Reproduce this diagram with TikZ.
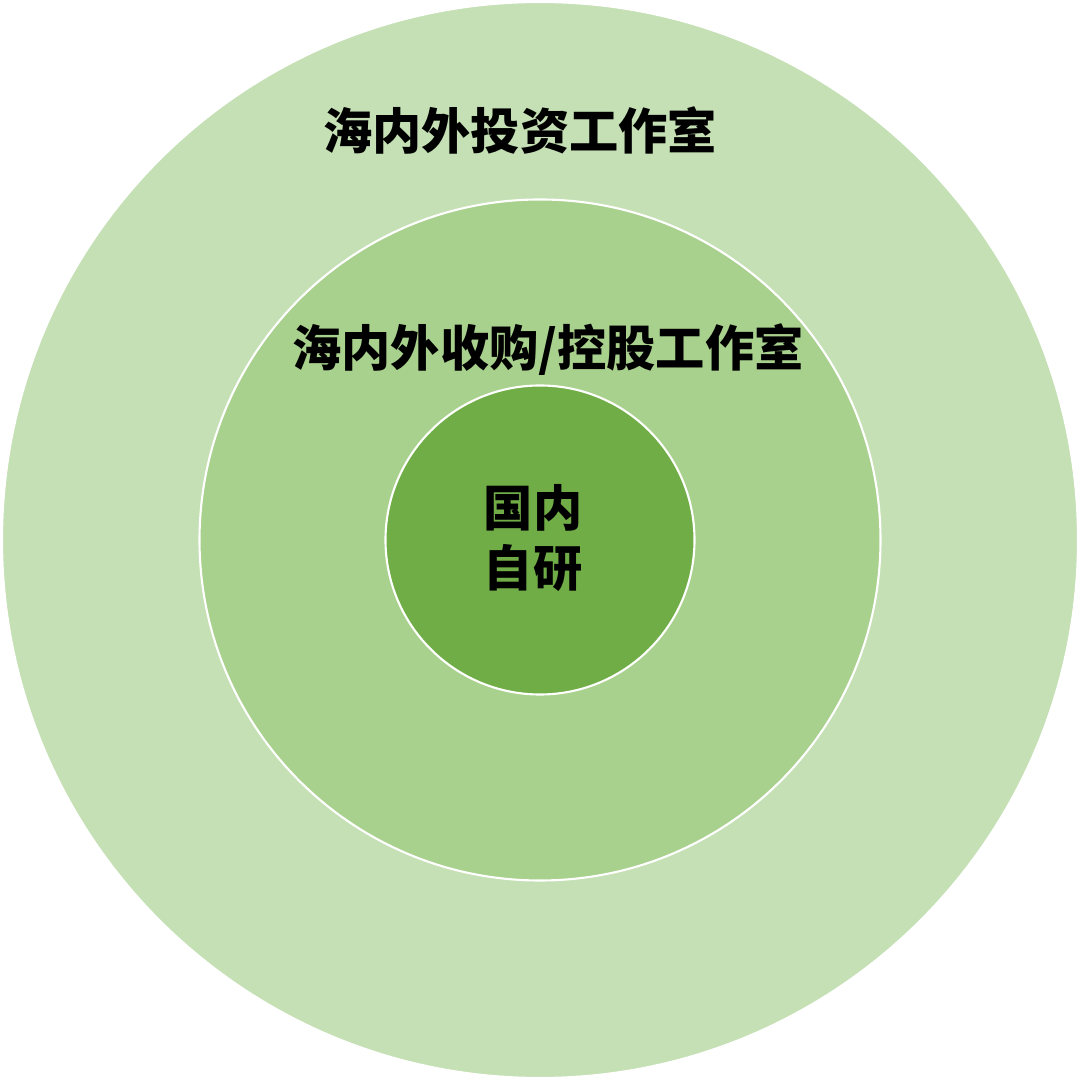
\documentclass[tikz,border=0pt]{standalone}
\usepackage{fontspec}
\newfontfamily\cjk{Noto Sans CJK SC}
\usetikzlibrary{positioning}
\definecolor{ringout}{HTML}{C5E0B4}
\definecolor{ringmid}{HTML}{A9D18E}
\definecolor{ringin}{HTML}{70AD47}
\tikzset{>=stealth,
  ring/.style={circle, draw=white, line width=0.6pt, inner sep=0pt},
  lab/.style={font=\cjk\bfseries\fontsize{14}{17}\selectfont, align=center, text=black}}

\begin{document}
\begin{tikzpicture}
    \useasboundingbox (0,0) rectangle (10.8,10.8);
    \node[ring, fill=ringout, minimum size=10.76cm] (outer) at (5.4,5.4) {};
    \node[ring, fill=ringmid, minimum size=6.81cm] (middle) at (5.4,5.4) {};
    \node[ring, fill=ringin, minimum size=3.09cm] (inner) at (5.4,5.4) {};
    \node[lab] (invest) at (5.2,9.5) {海内外投资工作室};
    \node[lab] (acquire) at (5.48,7.3) {海内外收购/控股工作室};
    \node[lab] (domestic) at (5.33,5.42) {国内\\自研};
\end{tikzpicture}
\end{document}
